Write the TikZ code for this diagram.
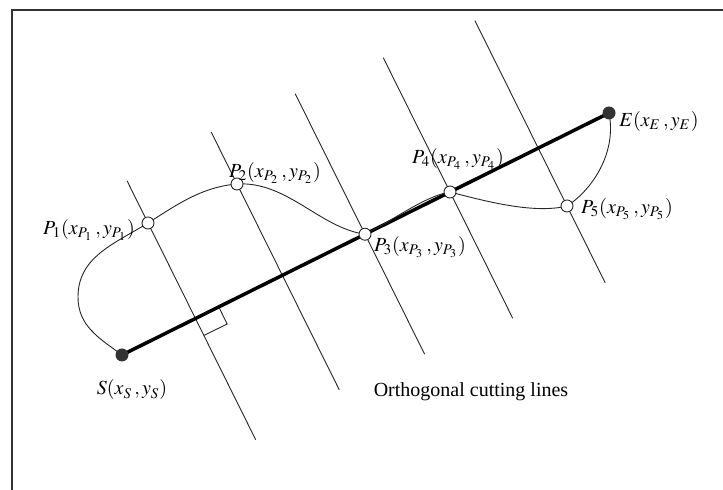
\documentclass[tikz,border=0pt]{standalone}
\usepackage{mathptmx}
\usepackage{fontspec}
\setmainfont{Liberation Serif}
\usetikzlibrary{calc}
\tikzset{
  frame/.style={line width=0.9pt,black!80},
  cutline/.style={line width=0.45pt,black!85},
  chord/.style={line width=1.75pt,black},
  track/.style={line width=0.45pt,black!85},
  endpt/.style={circle,fill=black!80,inner sep=0pt,minimum size=6.5pt},
  cutpt/.style={circle,draw=black!85,fill=white,line width=0.45pt,inner sep=0pt,minimum size=6pt},
  lbl/.style={inner sep=0pt,font=\fontsize{10}{12}\selectfont}
}
\begin{document}
\begin{tikzpicture}[x=0.5pt,y=0.5pt]
  \useasboundingbox (0,0) rectangle (723,490);
  \draw[frame] (12,0) -- (12,480) -- (723,480);
  \coordinate (s) at (122,135);
  \coordinate (e) at (609,377);
  \coordinate (p1) at (148,267);
  \coordinate (p2) at (237,306);
  \coordinate (p3) at ($(s)!0.499!(e)$);
  \coordinate (p4) at ($(s)!0.6735!(e)$);
  \coordinate (p5) at (567,284);
  \coordinate (k) at (78,193);
  \coordinate (ft) at ($(s)!(p1)!(e)$);
  \foreach \p/\up/\dn in {p1/47/242,p2/58/230,p3/157/134,p4/150/141,p5/207/86}
    \draw[cutline] ($(\p)+(116.42:\up)$) -- ($(\p)+(-63.58:\dn)$);
  \draw[cutline] ($(ft)+(26.42:26)$) -- ++(-63.58:19) -- ($(ft)+(-63.58:19)$);
  \draw[chord] (s) -- (e);
  \draw[track] (s) .. controls (99,152) and (78,164) .. (k)
    .. controls (78,233) and (114,246) .. (p1)
    .. controls (178,286) and (202,303) .. (p2)
    .. controls (287,309) and (320,262) .. (p3)
    .. controls (392,269) and (425,294) .. (p4)
    .. controls (488,288) and (535,276) .. (p5)
    .. controls (592,300) and (617,337) .. (e);
  \node[cutpt] (P1) at (p1) {};
  \node[cutpt] (P2) at (p2) {};
  \node[cutpt] (P3) at (p3) {};
  \node[cutpt] (P4) at (p4) {};
  \node[cutpt] (P5) at (p5) {};
  \node[endpt] (S) at (s) {};
  \node[endpt] (E) at (e) {};
  \node[lbl] (lS) at (132,100) {$S(x_S\,, y_S)$};
  \node[lbl] (lE) at (659,368) {$E(x_E\,, y_E)$};
  \node[lbl] (l1) at (89,260) {$P_1(x_{P_1}\,, y_{P_1})$};
  \node[lbl] (l2) at (275,317) {$P_2(x_{P_2}\,, y_{P_2})$};
  \node[lbl] (l3) at (420,243) {$P_3(x_{P_3}\,, y_{P_3})$};
  \node[lbl] (l4) at (458,331) {$P_4(x_{P_4}\,, y_{P_4})$};
  \node[lbl] (l5) at (627,281) {$P_5(x_{P_5}\,, y_{P_5})$};
  \node[lbl] (cap) at (471,98) {Orthogonal cutting lines};
\end{tikzpicture}
\end{document}
